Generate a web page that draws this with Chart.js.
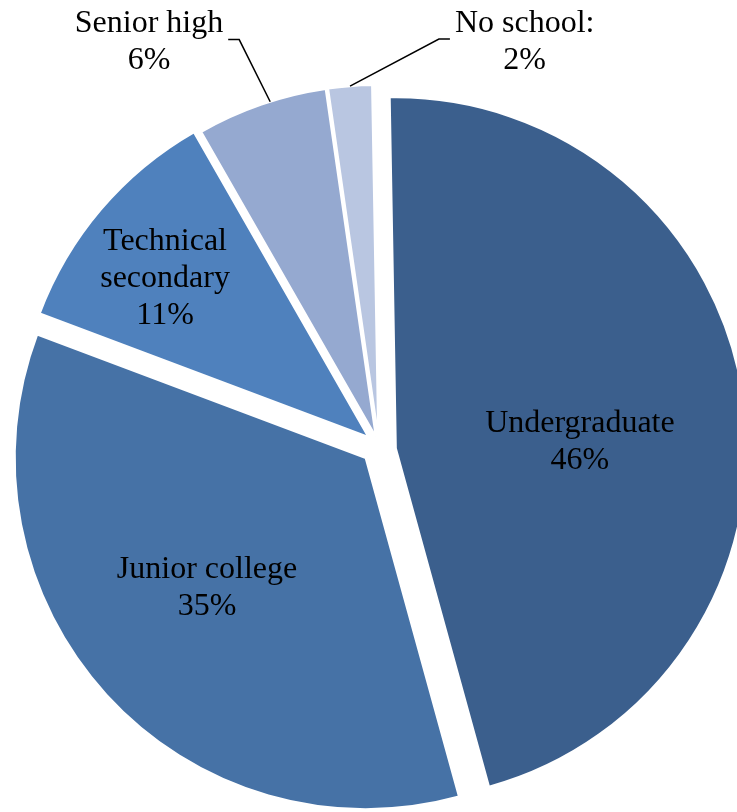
<!DOCTYPE html>
<html>
<head>
<meta charset="utf-8">
<title>Education level</title>
<script src="https://cdn.jsdelivr.net/npm/chart.js@4.4.1/dist/chart.umd.min.js"></script>
<style>
  html, body { margin: 0; padding: 0; background: #fff; overflow: hidden; }
  #pie { display: block; }
</style>
</head>
<body>
<canvas id="pie" width="737" height="812"></canvas>
<script>
// education level shares (%)
const levels = ["Undergraduate", "Junior college", ["Technical", "secondary"], "Senior high", "No school:"];
const shares = [46, 35, 11, 6, 2];

const sliceColors = ["#3b5f8d", "#4672a6", "#4f81bd", "#95a9d0", "#b9c6e1"];

// pull every slice out from the middle a bit (px, plus a small turn in deg)
const explodePlugin = {
  id: "explode",
  afterDatasetsUpdate(chart, args, opts) {
    chart.getDatasetMeta(0).data.forEach((arc, i) => {
      const e = opts.amount[i];
      const dir = (arc.startAngle + arc.endAngle) / 2 + (e.turn || 0) * Math.PI / 180;
      arc.x += Math.cos(dir) * e.d;
      arc.y += Math.sin(dir) * e.d;
    });
  }
};

// name + percent on each slice, leader lines for the thin ones
const sliceLabels = {
  id: "sliceLabels",
  afterDatasetsDraw(chart, args, opts) {
    const ctx = chart.ctx;
    const arcs = chart.getDatasetMeta(0).data;
    const rad = Math.PI / 180;
    ctx.save();
    ctx.font = opts.font;
    ctx.fillStyle = opts.color;
    ctx.strokeStyle = opts.color;
    ctx.lineWidth = 1.5;
    ctx.textAlign = "center";
    ctx.textBaseline = "middle";
    arcs.forEach((arc, i) => {
      const spot = opts.spots[i];
      const mid = (arc.startAngle + arc.endAngle) / 2;
      const a = mid + spot.turn * rad;
      const r = arc.outerRadius * spot.dist;
      const px = arc.x + Math.cos(a) * r;
      const py = arc.y + Math.sin(a) * r + opts.dy;
      const lines = [].concat(chart.data.labels[i], shares[i] + "%");
      const top = py - (lines.length - 1) * opts.lineHeight / 2;
      lines.forEach((t, k) => ctx.fillText(t, px, top + k * opts.lineHeight));

      if (spot.leader) {
        const w = Math.max(...lines.map(t => ctx.measureText(t).width));
        const h = mid + (spot.hook || 0) * rad;
        const ax = arc.x + Math.cos(h) * arc.outerRadius;
        const ay = arc.y + Math.sin(h) * arc.outerRadius;
        const side = ax > px ? 1 : -1;
        const x0 = px + side * (w / 2 + 5);
        const x1 = x0 + side * 11;
        const ly = py - 3;
        ctx.beginPath();
        ctx.moveTo(x0, ly);
        ctx.lineTo(x1, ly);
        ctx.lineTo(ax, ay);
        ctx.stroke();
      }
    });
    ctx.restore();
  }
};

new Chart(document.getElementById("pie"), {
  type: "pie",
  data: {
    labels: levels,
    datasets: [{
      data: shares,
      backgroundColor: sliceColors,
      borderColor: "#ffffff",
      borderWidth: 2
    }]
  },
  options: {
    responsive: false,
    animation: false,
    rotation: -1,
    radius: 351,
    layout: { padding: { left: 21, top: 80, right: 0, bottom: 0 } },
    plugins: {
      legend: { display: false },
      tooltip: { enabled: false },
      explode: {
        amount: [
          { d: 17, turn: 16 },
          { d: 18 },
          { d: 14 },
          { d: 10 },
          { d: 10 }
        ]
      },
      sliceLabels: {
        font: "32px 'Liberation Serif', 'Times New Roman', serif",
        color: "#000000",
        lineHeight: 37,
        dy: 2,
        spots: [
          { turn: 5.6, dist: 0.525 },
          { turn: 3.6, dist: 0.58 },
          { turn: -2.2, dist: 0.737 },
          { turn: -10.8, dist: 1.30, leader: true, hook: 1.5 },
          { turn: 24.9, dist: 1.203, leader: true }
        ]
      }
    }
  },
  plugins: [explodePlugin, sliceLabels]
});
</script>
</body>
</html>
